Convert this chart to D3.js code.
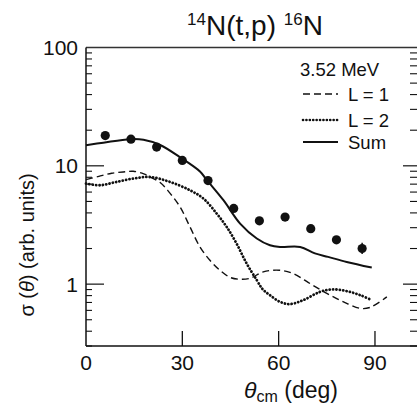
<!DOCTYPE html>
<html>
<head>
<meta charset="utf-8">
<script src="https://cdn.jsdelivr.net/npm/d3@7"></script>
<style>
  html, body { margin: 0; padding: 0; background: #fff; }
  svg { display: block; }
  text { font-family: "Liberation Sans", Arial, sans-serif; fill: #111; }
</style>
</head>
<body>
<svg id="chart" width="417" height="407"></svg>
<script>
// ---- data ----
const dataAngle = [6, 14, 22, 30, 38, 46, 54, 62, 70, 78, 86];
const dataSigma = [18.0, 16.8, 14.4, 11.1, 7.5, 4.36, 3.43, 3.69, 2.94, 2.37, 2.0];
const dataErrLo = [18.0, 16.8, 14.4, 11.1, 7.5, 4.36, 3.43, 3.69, 2.94, 2.37, 1.80];
const dataErrHi = [18.0, 16.8, 14.4, 11.1, 7.5, 4.36, 3.43, 3.69, 2.94, 2.37, 2.24];

const l1Angle = [0, 4, 8, 11.6, 14.7, 18, 20, 23, 26.2, 29.3, 32.4, 35.5, 38.6, 41.7, 44.9, 48, 51.1, 55.2, 60.2, 64.5, 69.8, 75, 80.2, 85.4, 88.5, 93.7];
const l1Sigma = [7.65, 8.15, 8.65, 8.87, 8.99, 8.56, 8.04, 7.26, 5.85, 4.49, 3.04, 2.06, 1.59, 1.31, 1.14, 1.10, 1.12, 1.27, 1.31, 1.23, 1.01, 0.835, 0.709, 0.624, 0.636, 0.781];

const l2Angle = [0, 4.4, 9, 14.7, 20, 26.2, 32.4, 36.6, 40.7, 43.8, 46.9, 50, 53.2, 55, 57.3, 60.4, 63.5, 67.7, 72.9, 77, 81.2, 85.4, 89];
const l2Sigma = [7.08, 6.85, 7.26, 7.80, 8.04, 7.30, 6.21, 5.28, 3.95, 3.05, 2.20, 1.50, 1.08, 0.907, 0.807, 0.709, 0.678, 0.733, 0.861, 0.902, 0.873, 0.807, 0.733];

const sumAngle = [0, 5.4, 13.7, 17.9, 23.1, 29.3, 35.5, 37.6, 42.8, 48, 53.2, 57.3, 60.4, 66.7, 71.3, 75.4, 81.2, 89];
const sumSigma = [14.95, 15.7, 16.8, 16.6, 15.0, 11.8, 8.95, 7.6, 5.12, 3.25, 2.43, 2.13, 2.06, 2.06, 1.82, 1.70, 1.54, 1.38];

const xTicks = [0, 30, 60, 90];
const yMajor = [1, 10, 100];
const yLabels = ["1", "10", "100"];

// ---- layout ----
const svg = d3.select("#chart");
const x = d3.scaleLinear().domain([0, 103.4]).range([86, 418]);
const y = d3.scaleLog().domain([0.3, 100]).range([346, 47.5]);

const minorVals = [];
[0.1, 1, 10].forEach(d => { for (let k = 2; k <= 9; k++) { const v = k * d; if (v > 0.3 && v < 100) minorVals.push(v); } });

const g = svg.append("g");
const ink = "#111";

// frame lines
g.append("line").attr("x1", x(0)).attr("x2", x(103.4)).attr("y1", y(100)).attr("y2", y(100)).attr("stroke", "#333").attr("stroke-width", 1.3);
g.append("line").attr("x1", x(0)).attr("x2", x(103.4)).attr("y1", y(0.3)).attr("y2", y(0.3)).attr("stroke", ink).attr("stroke-width", 1.5);
g.append("line").attr("x1", x(0)).attr("x2", x(0)).attr("y1", y(0.3)).attr("y2", y(100)).attr("stroke", ink).attr("stroke-width", 1.5);

// left ticks
g.selectAll(".lmin").data(minorVals).enter().append("line")
  .attr("x1", x(0)).attr("x2", x(0) + 6).attr("y1", d => y(d)).attr("y2", d => y(d))
  .attr("stroke", ink).attr("stroke-width", 1.1);
g.selectAll(".lmaj").data([1, 10]).enter().append("line")
  .attr("x1", x(0)).attr("x2", x(0) + 18).attr("y1", d => y(d)).attr("y2", d => y(d))
  .attr("stroke", ink).attr("stroke-width", 1.2);
// right ticks
const xr = x(103.4);
g.selectAll(".rmin").data(minorVals).enter().append("line")
  .attr("x1", xr).attr("x2", xr - 8).attr("y1", d => y(d)).attr("y2", d => y(d))
  .attr("stroke", ink).attr("stroke-width", 1.1);
g.selectAll(".rmaj").data([1, 10]).enter().append("line")
  .attr("x1", xr).attr("x2", xr - 15).attr("y1", d => y(d)).attr("y2", d => y(d))
  .attr("stroke", ink).attr("stroke-width", 1.2);
// bottom ticks
g.selectAll(".bt").data(xTicks.slice(1)).enter().append("line")
  .attr("x1", d => x(d)).attr("x2", d => x(d)).attr("y1", y(0.3)).attr("y2", y(0.3) - 15)
  .attr("stroke", ink).attr("stroke-width", 1.3);

// tick labels
g.selectAll(".xl").data(xTicks).enter().append("text")
  .attr("x", d => x(d)).attr("y", 370).attr("text-anchor", "middle")
  .attr("font-size", 21).text(d => d);
g.selectAll(".yl").data(yMajor).enter().append("text")
  .attr("x", 78).attr("y", d => y(d) + 7.5).attr("text-anchor", "end")
  .attr("font-size", 21).text((d, i) => yLabels[i]);

// curves
const line = d3.line().x(d => x(d[0])).y(d => y(d[1])).curve(d3.curveCatmullRom.alpha(0.5));
g.append("path").datum(d3.zip(l1Angle, l1Sigma)).attr("d", line)
  .attr("fill", "none").attr("stroke", ink).attr("stroke-width", 1.4).attr("stroke-dasharray", "7,4");
g.append("path").datum(d3.zip(l2Angle, l2Sigma)).attr("d", line)
  .attr("fill", "none").attr("stroke", ink).attr("stroke-width", 2.8).attr("stroke-dasharray", "0.1,3.3").attr("stroke-linecap", "round");
g.append("path").datum(d3.zip(sumAngle, sumSigma)).attr("d", line)
  .attr("fill", "none").attr("stroke", ink).attr("stroke-width", 2);

// data points
const pts = d3.range(dataAngle.length);
g.selectAll(".eb").data(pts).enter().append("line")
  .attr("x1", i => x(dataAngle[i])).attr("x2", i => x(dataAngle[i]))
  .attr("y1", i => y(dataErrLo[i])).attr("y2", i => y(dataErrHi[i]))
  .attr("stroke", ink).attr("stroke-width", 1.5);
g.selectAll(".pt").data(pts).enter().append("circle")
  .attr("cx", i => x(dataAngle[i])).attr("cy", i => y(dataSigma[i])).attr("r", 4.6)
  .attr("fill", ink);

// legend
const lg = g.append("g");
lg.append("text").attr("x", 300).attr("y", 76).attr("font-size", 18.5).text("3.52 MeV");
const legItems = [
  { label: "L = 1", dash: "7,4", w: 1.4, cap: "butt", yy: 94 },
  { label: "L = 2", dash: "0.1,3.3", w: 2.6, cap: "round", yy: 120 },
  { label: "Sum", dash: null, w: 2, cap: "butt", yy: 142 }
];
legItems.forEach(it => {
  lg.append("line").attr("x1", 303).attr("x2", 338).attr("y1", it.yy).attr("y2", it.yy)
    .attr("stroke", ink).attr("stroke-width", it.w).attr("stroke-linecap", it.cap)
    .attr("stroke-dasharray", it.dash);
  lg.append("text").attr("x", 348).attr("y", it.yy + 7).attr("font-size", 18.5).text(it.label);
});

// title
const t = svg.append("text").attr("x", 255).attr("y", 35).attr("text-anchor", "middle").attr("font-size", 28);
t.append("tspan").attr("font-size", 17).attr("dy", -10).text("14");
t.append("tspan").attr("dy", 10).text("N(t,p) ");
t.append("tspan").attr("font-size", 17).attr("dy", -10).text("16");
t.append("tspan").attr("dy", 10).text("N");

// x axis title
const xt = svg.append("text").attr("x", 291).attr("y", 398).attr("text-anchor", "middle").attr("font-size", 23);
xt.append("tspan").attr("font-style", "italic").text("θ");
xt.append("tspan").attr("font-size", 16).attr("dy", 4).text("cm");
xt.append("tspan").attr("dy", -4).text(" (deg)");

// y axis title
const yt = svg.append("text").attr("transform", "translate(34,245) rotate(-90)")
  .attr("text-anchor", "middle").attr("font-size", 20);
yt.append("tspan").text("σ (");
yt.append("tspan").attr("font-style", "italic").text("θ");
yt.append("tspan").text(") (arb. units)");
</script>
</body>
</html>
